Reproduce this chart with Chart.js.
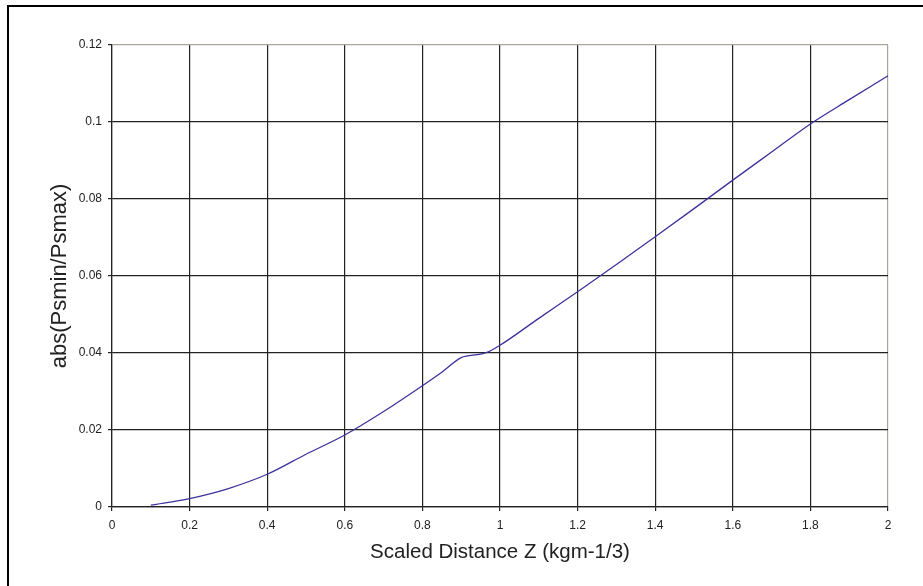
<!DOCTYPE html>
<html>
<head>
<meta charset="utf-8">
<script src="https://cdn.jsdelivr.net/npm/chart.js@4"></script>
<style>
  html, body { margin: 0; padding: 0; background: #fff; overflow: hidden; }
  #wrap { position: relative; width: 923px; height: 586px; }
  #frame { position: absolute; left: 7px; top: 5px; width: 1000px; height: 700px; border: 2px solid #000; box-sizing: border-box; }
  #chart { position: absolute; left: 0; top: 0; }
</style>
</head>
<body>
<div id="wrap">
  <div id="frame"></div>
  <canvas id="chart" width="923" height="586"></canvas>
</div>
<script>
// --- data ---
const zValues = [0.1, 0.2, 0.3, 0.4, 0.5, 0.6, 0.7, 0.8, 0.85, 0.9, 0.95, 0.97, 1.0, 1.1, 1.2, 1.3, 1.4, 1.5, 1.6, 1.7, 1.8, 1.9, 2.0];
const ratioValues = [0.0005, 0.0022, 0.0048, 0.0085, 0.0137, 0.0187, 0.0248, 0.0315, 0.035, 0.0388, 0.0397, 0.0403, 0.042, 0.049, 0.0559, 0.063, 0.0702, 0.0775, 0.0849, 0.0922, 0.0995, 0.1058, 0.112];
const xTicks = [0, 0.2, 0.4, 0.6, 0.8, 1, 1.2, 1.4, 1.6, 1.8, 2];
const yTicks = [0, 0.02, 0.04, 0.06, 0.08, 0.1, 0.12];
const xTitle = 'Scaled Distance Z (kgm-1/3)';
const yTitle = 'abs(Psmin/Psmax)';

const points = zValues.map((z, i) => ({ x: z, y: ratioValues[i] }));
const font = 'Liberation Sans, Arial, sans-serif';

// grid: dark lines, the far edges (top / right) in light grey like the Excel frame
function gridColor(max) {
    return ctx => (ctx.tick && ctx.tick.value === max) ? '#aaa69b' : '#222';
}
// Excel style numbers: 0.1 not 0.10, 1 not 1.0
const plain = v => String(Number(v));

new Chart(document.getElementById('chart'), {
    type: 'line',
    data: {
        datasets: [{
            data: points,
            borderColor: '#3d329e',
            borderWidth: 1.3,
            pointRadius: 0,
            fill: false,
            cubicInterpolationMode: 'monotone'
        }]
    },
    options: {
        responsive: false,
        animation: false,
        plugins: { legend: { display: false }, tooltip: { enabled: false } },
        layout: { padding: { top: 45, right: 35, left: 0, bottom: 0 } },
        scales: {
            x: {
                type: 'linear',
                min: 0, max: 2,
                afterBuildTicks: axis => { axis.ticks = xTicks.map(v => ({ value: v })); },
                afterFit: axis => { axis.height = 79; },
                grid: { color: gridColor(2), lineWidth: 1.2, tickLength: 4, tickColor: '#222' },
                border: { color: '#222', width: 1.2 },
                ticks: { color: '#222', font: { family: font, size: 12 }, padding: 7, maxRotation: 0, callback: plain },
                title: { display: true, text: xTitle, color: '#222', font: { family: font, size: 20.5 }, padding: { top: 0, bottom: 21 } }
            },
            y: {
                type: 'linear',
                min: 0, max: 0.12,
                afterBuildTicks: axis => { axis.ticks = yTicks.map(v => ({ value: v })); },
                afterFit: axis => { axis.width = 112; },
                grid: { color: gridColor(0.12), lineWidth: 1.2, tickLength: 4, tickColor: '#222' },
                border: { color: '#222', width: 1.2 },
                ticks: { color: '#222', font: { family: font, size: 12 }, padding: 6, callback: plain },
                title: { display: true, text: yTitle, color: '#222', font: { family: font, size: 22 }, padding: { top: 47, bottom: 0 } }
            }
        }
    }
});
</script>
</body>
</html>
